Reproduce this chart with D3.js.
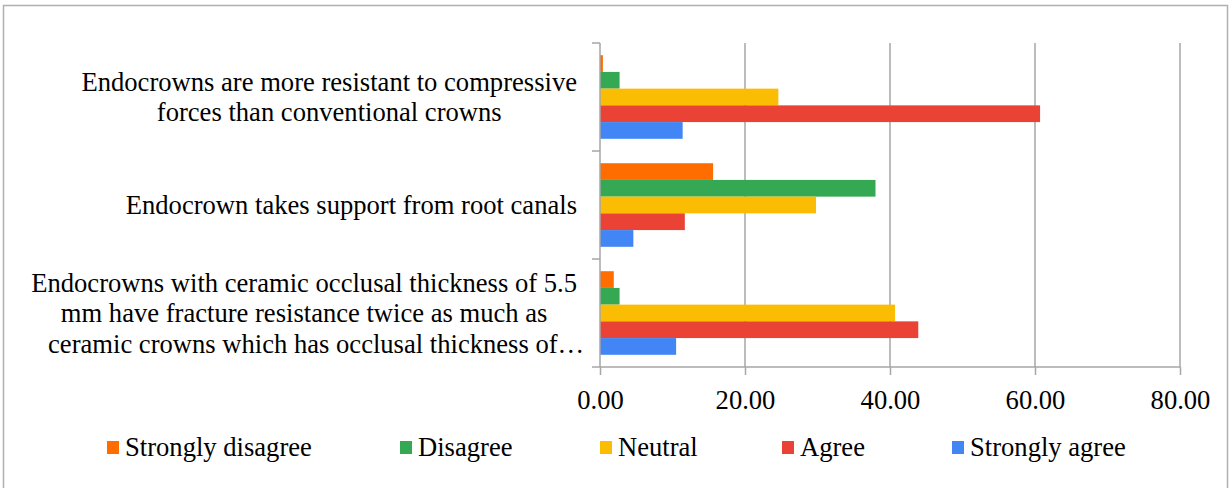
<!DOCTYPE html>
<html>
<head>
<meta charset="utf-8">
<script src="https://cdn.jsdelivr.net/npm/d3@7"></script>
<style>
  html, body { margin: 0; padding: 0; background: #fff; }
  svg { display: block; }
</style>
</head>
<body>
<svg id="chart" width="1229" height="488"></svg>
<script>
// ---- data ----
const categories = [
  ["Endocrowns are more resistant to compressive", "forces than conventional crowns"],
  ["Endocrown takes support from root canals"],
  ["Endocrowns with ceramic occlusal thickness of 5.5", "mm have fracture resistance twice as much as", "ceramic crowns which has occlusal thickness of\u2026"]
];
const seriesNames = ["Strongly disagree", "Disagree", "Neutral", "Agree", "Strongly agree"];
const stronglyDisagree = [0.4, 15.6, 1.9];
const disagree = [2.7, 38.0, 2.7];
const neutral = [24.6, 29.8, 40.7];
const agree = [60.7, 11.7, 43.9];
const stronglyAgree = [11.4, 4.6, 10.5];
const tickValues = [0, 20, 40, 60, 80];
const colors = ["#FF6D01", "#34A853", "#FBBC04", "#EA4335", "#4285F4"];

const seriesValues = [stronglyDisagree, disagree, neutral, agree, stronglyAgree];

// ---- layout ----
const svg = d3.select("#chart");
const grid = "#a6a6a6";
const fontSize = 26.6;
const FONT = "'Liberation Serif'";

function styleText(sel) {
  return sel.attr("font-size", fontSize).style("font-family", FONT).attr("fill", "#000");
}

svg.append("rect")
  .attr("x", 3.5).attr("y", 5.5).attr("width", 1224).attr("height", 490)
  .attr("fill", "#fff").attr("stroke", "#b0b0b0").attr("stroke-width", 1.5);

const x = d3.scaleLinear().domain([0, 80]).range([600, 1180]);
const y = d3.scaleBand().domain(d3.range(categories.length)).range([43, 367]).paddingInner(0).paddingOuter(0);
const ySub = d3.scaleBand().domain(d3.range(seriesNames.length)).range([0, y.bandwidth()]).paddingInner(0).paddingOuter(0.73);

// gridlines
svg.append("g").selectAll("line").data(tickValues.slice(1)).join("line")
  .attr("x1", d => x(d)).attr("x2", d => x(d))
  .attr("y1", y.range()[0]).attr("y2", y.range()[1])
  .attr("stroke", grid).attr("stroke-width", 1.5);

// bars
const gBars = svg.append("g");
categories.forEach((c, ci) => {
  seriesValues.forEach((vals, si) => {
    gBars.append("rect")
      .attr("x", x(0))
      .attr("y", y(ci) + ySub(si))
      .attr("width", x(vals[ci]) - x(0))
      .attr("height", ySub.bandwidth())
      .attr("fill", colors[si]);
  });
});

// x axis
const xAxis = d3.axisBottom(x).tickValues(tickValues).tickSize(8).tickFormat(d3.format(".2f"));
const gx = svg.append("g").attr("transform", "translate(0,367)").call(xAxis)
  .attr("font-family", null).attr("font-size", null);
gx.select(".domain").attr("stroke", grid).attr("stroke-width", 1.5).attr("d", "M600,0H1180");
gx.selectAll(".tick line").attr("stroke", grid).attr("stroke-width", 1.5);
styleText(gx.selectAll(".tick text")).attr("dy", null).attr("y", 42);

// y axis (line + ticks at category boundaries)
const bounds = d3.range(categories.length + 1).map(i => y.range()[0] + i * y.step());
svg.append("line").attr("x1", x(0)).attr("x2", x(0)).attr("y1", y.range()[0]).attr("y2", y.range()[1])
  .attr("stroke", grid).attr("stroke-width", 1.5);
svg.append("g").selectAll("line").data(bounds).join("line")
  .attr("x1", x(0) - 8).attr("x2", x(0)).attr("y1", d => d).attr("y2", d => d)
  .attr("stroke", grid).attr("stroke-width", 1.5);

// category labels (one text per line, block centred, widest line flush to the axis gap)
const lineH = 30.5;
const rightEdge = 577;
categories.forEach((lines, ci) => {
  const cy = y(ci) + y.bandwidth() / 2;
  const ts = lines.map((ln, li) => styleText(svg.append("text"))
    .attr("text-anchor", "middle")
    .attr("y", cy + (li - (lines.length - 1) / 2) * lineH + 9)
    .text(ln));
  const maxW = d3.max(ts, t => t.node().getComputedTextLength());
  ts.forEach((t, li) => {
    const truncated = lines[li].endsWith("\u2026");
    t.attr("x", rightEdge - maxW / 2 + (truncated ? 12 : 0));
  });
});

// legend
const legendX = [107, 400, 600, 782, 952];
const lg = svg.append("g");
seriesNames.forEach((name, i) => {
  lg.append("rect").attr("x", legendX[i]).attr("y", 441).attr("width", 12).attr("height", 13).attr("fill", colors[i]);
  styleText(lg.append("text")).attr("x", legendX[i] + 18).attr("y", 456).text(name);
});
</script>
</body>
</html>
